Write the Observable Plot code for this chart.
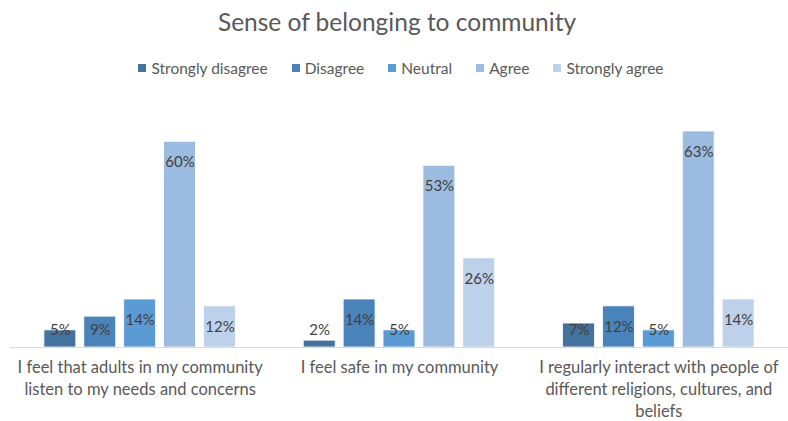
<!DOCTYPE html>
<html>
<head>
<meta charset="utf-8">
<script src="https://cdn.jsdelivr.net/npm/d3@7"></script>
<script src="https://cdn.jsdelivr.net/npm/@observablehq/plot@0.6"></script>
<style>
  html, body { margin: 0; padding: 0; background: #fff; }
  body { width: 788px; height: 421px; overflow: hidden; font-family: Lato, "Open Sans", sans-serif; }
  #title { height: 46px; line-height: 44px; text-align: center; font-size: 24.5px; color: #595959; padding-left: 6px; box-sizing: border-box; }
  #legend { height: 44px; display: flex; justify-content: center; align-items: center; gap: 24px; font-size: 15.5px; color: #595959; padding-left: 14px; box-sizing: border-box; }
  #legend .item { display: flex; align-items: center; }
  #legend .sw { width: 8px; height: 8px; margin-right: 5px; }
</style>
</head>
<body>
<div id="title">Sense of belonging to community</div>
<div id="legend"></div>
<div id="chart"></div>
<script>
const questions = [
  "I feel that adults in my community listen to my needs and concerns",
  "I feel safe in my community",
  "I regularly interact with people of different religions, cultures, and beliefs"
];
const questionLabels = [
  "I feel that adults in my community\nlisten to my needs and concerns",
  "I feel safe in my community",
  "I regularly interact with people of\ndifferent religions, cultures, and\nbeliefs"
];
const levels = ["Strongly disagree", "Disagree", "Neutral", "Agree", "Strongly agree"];
const colors = ["#44729e", "#4a83ba", "#5b9bd5", "#9bbbe0", "#bdd1eb"];
const stronglyDisagree = [5, 2, 7];
const disagree = [9, 14, 12];
const neutral = [14, 5, 5];
const agree = [60, 53, 63];
const stronglyAgree = [12, 26, 14];

const series = [stronglyDisagree, disagree, neutral, agree, stronglyAgree];
const data = [];
questions.forEach((q, i) => {
  levels.forEach((lv, j) => {
    data.push({question: q, level: lv, value: series[j][i]});
  });
});

// legend
const legend = document.getElementById("legend");
levels.forEach((lv, j) => {
  const it = document.createElement("div");
  it.className = "item";
  const sw = document.createElement("div");
  sw.className = "sw";
  sw.style.background = colors[j];
  const tx = document.createElement("span");
  tx.textContent = lv;
  it.appendChild(sw); it.appendChild(tx);
  legend.appendChild(it);
});

const labelMap = new Map(questions.map((q, i) => [q, questionLabels[i]]));

const chart = Plot.plot({
  width: 788,
  height: 331,
  marginLeft: 10,
  marginRight: 0,
  marginTop: 17,
  marginBottom: 74,
  style: {fontFamily: "Lato, 'Open Sans', sans-serif", background: "#fff"},
  fx: {domain: questions, padding: 0, round: false, label: null},
  x: {domain: levels, paddingInner: 0.2, paddingOuter: 0.85, round: false, axis: null},
  y: {domain: [0, 70], axis: null},
  color: {domain: levels, range: colors},
  marks: [
    Plot.barY(data, {fx: "question", x: "level", y: "value", fill: "level", stroke: "#ffffff", strokeWidth: 0.8}),
    Plot.ruleY([0], {stroke: "#d9d9d9", strokeWidth: 1}),
    Plot.text(data, {
      fx: "question", x: "level",
      y: d => Math.max(d.value - 6, 5),
      text: d => d.value + "%",
      fill: "#404040", fontSize: 15, lineAnchor: "middle"
    }),
    Plot.axisFx({
      anchor: "bottom", tickSize: 0, tickPadding: 10, label: null,
      tickFormat: q => labelMap.get(q),
      fontSize: 16.5, lineHeight: 1.34, fill: "#595959", textOverflow: null, lineWidth: Infinity
    })
  ]
});
document.getElementById("chart").appendChild(chart);
</script>
</body>
</html>
